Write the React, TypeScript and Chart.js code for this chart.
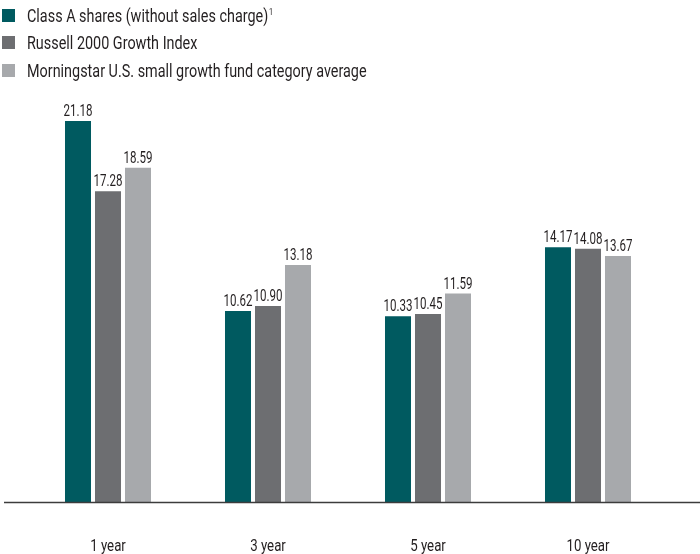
import React, { useEffect, useRef } from "react";
import { Chart, registerables } from "chart.js";

Chart.register(...registerables);

const categories = ["1 year", "3 year", "5 year", "10 year"];
const seriesNames = [
  "Class A shares (without sales charge)",
  "Russell 2000 Growth Index",
  "Morningstar U.S. small growth fund category average",
];
const classA = [21.18, 10.62, 10.33, 14.17];
const russell = [17.28, 10.9, 10.45, 14.08];
const morningstar = [18.59, 13.18, 11.59, 13.67];
const colors = ["#005a60", "#6d6e71", "#a7a9ac"];

const FONT = 'Roboto, "Open Sans", sans-serif';
const TEXT = "#231f20";

function drawNarrow(ctx: any, text: string, x: number, y: number, sx: number) {
  ctx.save();
  ctx.translate(x, y);
  ctx.scale(sx, 1);
  ctx.fillText(text, 0, 0);
  ctx.restore();
}

const valueLabels = {
  id: "valueLabels",
  afterDatasetsDraw(chart: any) {
    const ctx = chart.ctx;
    ctx.save();
    ctx.font = `17px ${FONT}`;
    ctx.fillStyle = TEXT;
    ctx.textAlign = "center";
    ctx.textBaseline = "alphabetic";
    chart.data.datasets.forEach((ds: any, i: number) => {
      const meta = chart.getDatasetMeta(i);
      meta.data.forEach((bar: any, j: number) => {
        drawNarrow(ctx, Number(ds.data[j]).toFixed(2), bar.x, bar.y - 5, 0.68);
      });
    });
    // category labels
    const xs = chart.scales.x;
    ctx.font = `17px ${FONT}`;
    chart.data.labels.forEach((lab: string, k: number) => {
      drawNarrow(ctx, lab, xs.getPixelForValue(k), 551, 0.78);
    });
    ctx.restore();
  },
};

const baseline = {
  id: "baseline",
  afterDatasetsDraw(chart: any) {
    const ctx = chart.ctx;
    const y = Math.round(chart.scales.y.getPixelForValue(0)) + 0.5;
    ctx.save();
    ctx.strokeStyle = "#3c3c3c";
    ctx.lineWidth = 1.3;
    ctx.beginPath();
    ctx.moveTo(4, y);
    ctx.lineTo(700, y);
    ctx.stroke();
    ctx.restore();
  },
};

export default function App() {
  const ref = useRef<HTMLCanvasElement | null>(null);
  useEffect(() => {
    if (!ref.current) return;
    const chart = new Chart(ref.current, {
      type: "bar",
      data: {
        labels: categories,
        datasets: [classA, russell, morningstar].map((d, i) => ({
          label: seriesNames[i],
          data: d,
          backgroundColor: colors[i],
          borderWidth: 0,
          categoryPercentage: 0.5625,
          barPercentage: 0.867,
        })),
      },
      options: {
        animation: false,
        responsive: false,
        maintainAspectRatio: false,
        layout: { padding: { left: 28, right: 32, top: 100, bottom: 0 } },
        plugins: { legend: { display: false }, tooltip: { enabled: false } },
        scales: {
          x: {
            grid: { display: false, drawTicks: false },
            border: { display: false },
            ticks: { display: false },
            afterFit: (s: any) => {
              s.height = 52;
            },
          },
          y: {
            display: false,
            min: 0,
            max: 22.35,
          },
        },
      },
      plugins: [valueLabels, baseline],
    });
    return () => chart.destroy();
  }, []);

  return (
    <div style={{ position: "absolute", left: 0, top: 0, width: 700, height: 554, background: "#fff", fontFamily: FONT, color: TEXT }}>
      <canvas ref={ref} width={700} height={554} style={{ position: "absolute", left: 0, top: 0 }} />
      {seriesNames.map((n, i) => (
        <div key={n} style={{ position: "absolute", left: 2, top: 4 + i * 27.5, height: 22, display: "flex", alignItems: "center", whiteSpace: "nowrap" }}>
          <span style={{ display: "inline-block", width: 13, height: 13, background: colors[i], marginRight: 12 }} />
          <span style={{ display: "inline-block", fontSize: 18, transform: "scaleX(0.8)", transformOrigin: "left center" }}>
            {n}
            {i === 0 ? <sup style={{ fontSize: 9, marginLeft: 1, verticalAlign: "7px" }}>1</sup> : null}
          </span>
        </div>
      ))}
    </div>
  );
}
